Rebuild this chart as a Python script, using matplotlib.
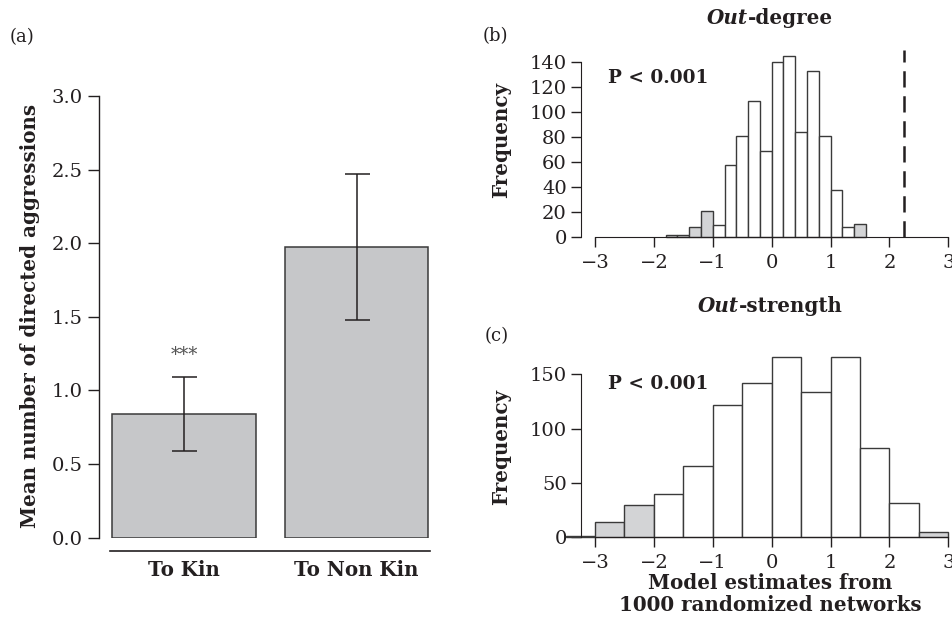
import matplotlib
matplotlib.use("Agg")
import matplotlib.pyplot as plt
import numpy as np

# --- data -------------------------------------------------------------
groups = ["To Kin", "To Non Kin"]
mean_aggr = [0.84, 1.975]
aggr_low = [0.589, 1.477]
aggr_high = [1.094, 2.47]

# out-degree histogram (bins of 0.2 starting at -1.8)
deg_start, deg_width = -1.8, 0.2
deg_counts = [2, 2, 8, 21, 10, 58, 81, 109, 69, 140, 145, 84, 133, 81, 38, 8, 11]
deg_tail = [1, 1, 1, 1, 0, 0, 0, 0, 0, 0, 0, 0, 0, 0, 0, 0, 1]
deg_observed = 2.24

# out-strength histogram (bins of 0.5 starting at -3.5)
str_start, str_width = -3.5, 0.5
str_counts = [1, 14, 30, 40, 66, 122, 142, 166, 134, 166, 82, 32, 5]
str_tail = [1, 1, 1, 0, 0, 0, 0, 0, 0, 0, 0, 0, 1]

W, H = 952, 634
INK = "#231f20"
BOLD = 14.3
plt.rcParams["font.family"] = ["DejaVu Serif"]
plt.rcParams["text.color"] = INK
plt.rcParams["axes.edgecolor"] = INK
plt.rcParams["xtick.color"] = INK
plt.rcParams["ytick.color"] = INK

fig = plt.figure(figsize=(W / 100, H / 100), dpi=100)


def px_axes(left, top, right, bottom):
    return fig.add_axes([left / W, 1 - bottom / H, (right - left) / W, (bottom - top) / H])


def ftext(x, y, s, **kw):
    return fig.text(x / W, 1 - y / H, s, ha=kw.pop("ha", "center"), va=kw.pop("va", "center"), **kw)


# --- (a) bar plot -----------------------------------------------------
ax = px_axes(99.3, 96, 440, 537.7)
xpos = [0.7, 1.9]
ax.bar(xpos, mean_aggr, width=1, color="#c6c7c9", edgecolor="#3a3a3a", linewidth=1.1, zorder=2)
err = [np.array(mean_aggr) - np.array(aggr_low), np.array(aggr_high) - np.array(mean_aggr)]
ax.errorbar(xpos, mean_aggr, yerr=err, fmt="none", ecolor=INK, elinewidth=1.1,
            capsize=9, capthick=1.1, zorder=3)
ax.text(xpos[0], 1.24, "***", ha="center", va="center", fontsize=13, color="#555555")
ax.set_xlim(0.109, 2.481)
ax.set_ylim(0, 3)
ax.set_yticks(np.arange(0, 3.01, 0.5))
ax.set_yticklabels(["%.1f" % v for v in np.arange(0, 3.01, 0.5)])
ax.tick_params(axis="y", length=8, width=1, pad=4, labelsize=14)
for s in ["top", "right"]:
    ax.spines[s].set_visible(False)
ax.spines["left"].set_linewidth(1)
ax.spines["bottom"].set_position(("outward", 9.5))
ax.spines["bottom"].set_bounds(0.183, 2.412)
ax.spines["bottom"].set_linewidth(1.2)
ax.set_xticks(xpos)
ax.set_xticklabels(groups, fontweight="bold", fontsize=BOLD)
ax.tick_params(axis="x", length=0, pad=6.5)
ftext(30, 316, "Mean number of directed aggressions", rotation=90, fontweight="bold", fontsize=BOLD)
ftext(22, 37, "(a)", fontsize=13)


def hist_panel(top, bottom, ylim_top, start, width, counts, tail, yticks):
    a = px_axes(559.7, top, 952, bottom)
    lefts = start + width * np.arange(len(counts))
    colors = ["#d3d4d6" if t else "white" for t in tail]
    a.bar(lefts, counts, width=width, align="edge", color=colors,
          edgecolor="#3a3a3a", linewidth=1, zorder=2, clip_on=False)
    a.set_xlim(-3.6, 3.063)
    a.set_ylim(0, ylim_top)
    for s in ["top", "right"]:
        a.spines[s].set_visible(False)
    a.spines["left"].set_position(("data", -3.243))
    a.spines["left"].set_bounds(yticks[0], yticks[-1])
    a.spines["bottom"].set_bounds(-3, 3)
    a.set_yticks(yticks)
    a.set_xticks(range(-3, 4))
    a.tick_params(axis="y", length=7, width=1, pad=3, labelsize=14)
    a.tick_params(axis="x", length=7, width=1, pad=5, labelsize=14)
    return a


# --- (b) out-degree ---------------------------------------------------
axb = hist_panel(50, 237.3, 149.8, deg_start, deg_width, deg_counts, deg_tail, list(range(0, 141, 20)))
axb.vlines(deg_observed, 0, 149.8, colors=INK, linestyles=(0, (6.5, 3.5)), linewidth=1.8, zorder=3)
ftext(501, 140, "Frequency", rotation=90, fontweight="bold", fontsize=BOLD)
ftext(658, 78, "P < 0.001", fontweight="bold", fontsize=13.3)
ftext(495, 36, "(b)", fontsize=13)

# --- (c) out-strength -------------------------------------------------
axc = hist_panel(345, 537.3, 177, str_start, str_width, str_counts, str_tail, [0, 50, 100, 150])
ftext(501, 447, "Frequency", rotation=90, fontweight="bold", fontsize=BOLD)
ftext(658, 384, "P < 0.001", fontweight="bold", fontsize=13.3)
ftext(497, 336, "(c)", fontsize=13)
ftext(770, 583, "Model estimates from", fontweight="bold", fontsize=BOLD)
ftext(770, 605, "1000 randomized networks", fontweight="bold", fontsize=BOLD)


def mixed_title(xc, yc, first, rest):
    t1 = ftext(0, yc, first, fontweight="bold", style="italic", fontsize=BOLD, ha="left")
    t2 = ftext(0, yc, rest, fontweight="bold", fontsize=BOLD, ha="left")
    r = fig.canvas.get_renderer()
    w1 = t1.get_window_extent(r).width
    w2 = t2.get_window_extent(r).width
    x0 = xc - (w1 + w2) / 2
    t1.set_x(x0 / W)
    t2.set_x((x0 + w1) / W)


mixed_title(770, 18, "Out", "-degree")
mixed_title(770, 306, "Out", "-strength")

fig.savefig("out.png", dpi=100)
